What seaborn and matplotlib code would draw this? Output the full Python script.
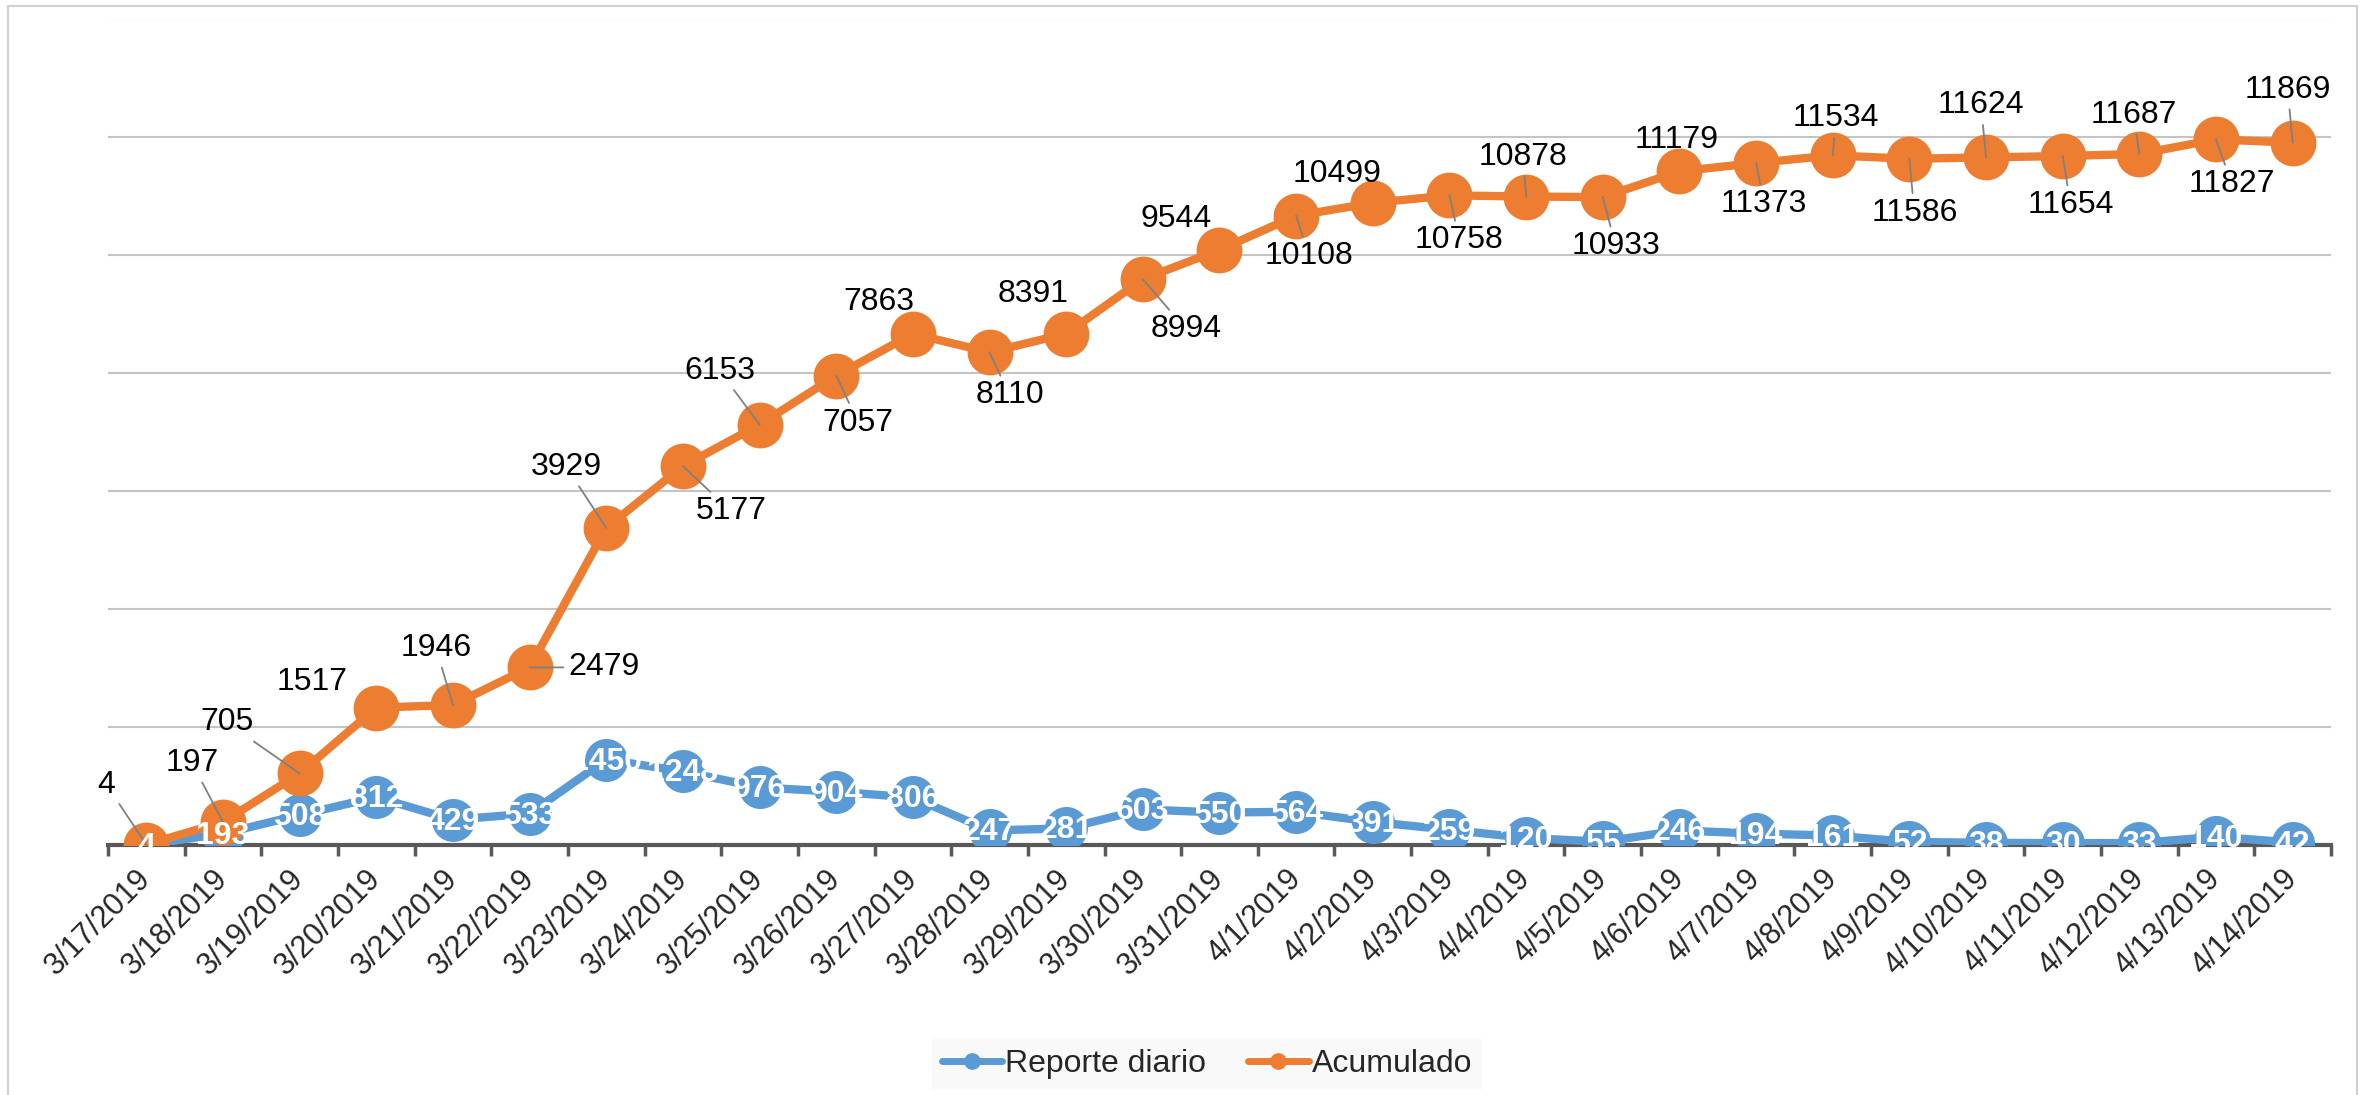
import numpy as np
import pandas as pd
import matplotlib
matplotlib.use('Agg')
import matplotlib.pyplot as plt
from matplotlib.lines import Line2D
from matplotlib.patches import Rectangle
import seaborn as sns

# Datos
fechas = ['3/17/2019', '3/18/2019', '3/19/2019', '3/20/2019', '3/21/2019',
          '3/22/2019', '3/23/2019', '3/24/2019', '3/25/2019', '3/26/2019',
          '3/27/2019', '3/28/2019', '3/29/2019', '3/30/2019', '3/31/2019',
          '4/1/2019', '4/2/2019', '4/3/2019', '4/4/2019', '4/5/2019',
          '4/6/2019', '4/7/2019', '4/8/2019', '4/9/2019', '4/10/2019',
          '4/11/2019', '4/12/2019', '4/13/2019', '4/14/2019']
reporte_diario = [4, 193, 508, 812, 429, 533, 1450, 1248, 976, 904, 806, 247,
                  281, 603, 550, 564, 391, 259, 120, 55, 246, 194, 161, 52,
                  38, 30, 33, 140, 42]
acumulado = [4, 197, 705, 1517, 1946, 2479, 3929, 5177, 6153, 7057, 7863,
             8110, 8391, 8994, 9544, 10108, 10499, 10758, 10878, 10933,
             11179, 11373, 11534, 11586, 11624, 11654, 11687, 11827, 11869]

# Posicion de las etiquetas de "Acumulado" (pixeles: dx a la derecha, dy hacia abajo)
desplazamientos = [(-40, -60), (-31, -59), (-73, -51), (-64, -26), (-17, -57),
                   (74, 0), (-40, -61), (48, 45), (-40, -54), (22, 47),
                   (-34, -32), (20, 43), (-33, -40), (43, 50), (-43, -31),
                   (13, 40), (-36, -29), (10, 45), (-3, -40), (13, 49),
                   (-3, -31), (8, 41), (3, -37), (5, 54), (-5, -52),
                   (8, 49), (-6, -39), (16, 45), (-5, -53)]
sin_guia = [3, 10, 12, 14, 16, 20]

azul = '#5B9BD5'
naranja = '#ED7D31'

sns.set_theme(style='white')
plt.rcParams['font.family'] = ['Liberation Sans', 'DejaVu Sans']

df = pd.DataFrame({'fecha': fechas, 'diario': reporte_diario, 'acumulado': acumulado})
df['pos'] = np.arange(len(df))
# lineas apiladas (como el grafico original de Excel)
df['apilado'] = df['diario'] + df['acumulado']

fig = plt.figure(figsize=(23.66, 10.95), dpi=100)
ax = fig.add_axes([108 / 2366, 250 / 1095, 2223 / 2366, 825.5 / 1095])

sns.lineplot(data=df, x='pos', y='diario', ax=ax, color=azul, linewidth=6,
             marker='o', markersize=31, markeredgewidth=0, zorder=3)
sns.lineplot(data=df, x='pos', y='apilado', ax=ax, color=naranja, linewidth=6,
             marker='o', markersize=33, markeredgewidth=0, zorder=4)

# etiquetas de la serie acumulada
for i, (v, y) in enumerate(zip(df['acumulado'], df['apilado'])):
    dx, dy = desplazamientos[i]
    guia = None if i in sin_guia else dict(arrowstyle='-', color='#808080', lw=1.3,
                                             shrinkA=1, shrinkB=0)
    ax.annotate(str(v), xy=(i, y), xytext=(dx, -dy), textcoords='offset pixels',
                ha='center', va='center', fontsize=23, color='black',
                arrowprops=guia, zorder=6)

# etiquetas del reporte diario
for i, v in enumerate(df['diario']):
    ax.annotate(str(v), xy=(i, v), xytext=(0, -2), textcoords='offset pixels',
                ha='center', va='center', fontsize=23, fontweight='bold',
                color='white', zorder=8)

ax.set_xlim(-0.5, 28.5)
ax.set_ylim(0, 14000)
ax.set_yticks(np.arange(0, 14001, 2000))
ax.set_yticklabels([])
ax.tick_params(axis='y', length=0)
ax.grid(axis='y', color='#c4c4c4', linewidth=1.5)
ax.grid(axis='x', visible=False)
ax.set_axisbelow(True)

ax.set_xticks(df['pos'])
ax.set_xticklabels(fechas, rotation=45, fontsize=22)
for t in ax.get_xticklabels():
    t.set_ha('right')
    t.set_va('center')
    t.set_rotation_mode('anchor')
ax.set_xticks(np.arange(-0.5, 29, 1), minor=True)
ax.tick_params(axis='x', which='major', length=0, pad=21)
ax.tick_params(axis='x', which='minor', length=8, width=2.5, color='#595959',
               direction='out', bottom=True)
for s in ['top', 'left', 'right']:
    ax.spines[s].set_visible(False)
ax.spines['bottom'].set_color('#595959')
ax.spines['bottom'].set_linewidth(3)
ax.set_xlabel('')
ax.set_ylabel('')

handles = [Line2D([], [], color=azul, lw=5, marker='o', markersize=11),
           Line2D([], [], color=naranja, lw=5, marker='o', markersize=11)]
fig.legend(handles, ['Reporte diario', 'Acumulado'], loc='center',
           bbox_to_anchor=(1207 / 2366, 1 - 1064 / 1095), ncol=2, fontsize=23,
           frameon=True, facecolor='#f8f8f8', edgecolor='none', fancybox=False,
           handlelength=1.9, handletextpad=0.1, columnspacing=1.3, borderpad=0.3)

# marco del grafico
fig.patches.append(Rectangle((8 / 2366, -0.02), 2349 / 2366, 1.02 - 6 / 1095,
                             transform=fig.transFigure, fill=False,
                             edgecolor='#d0d0d0', lw=1.5))

fig.savefig('out.png', dpi=100)
